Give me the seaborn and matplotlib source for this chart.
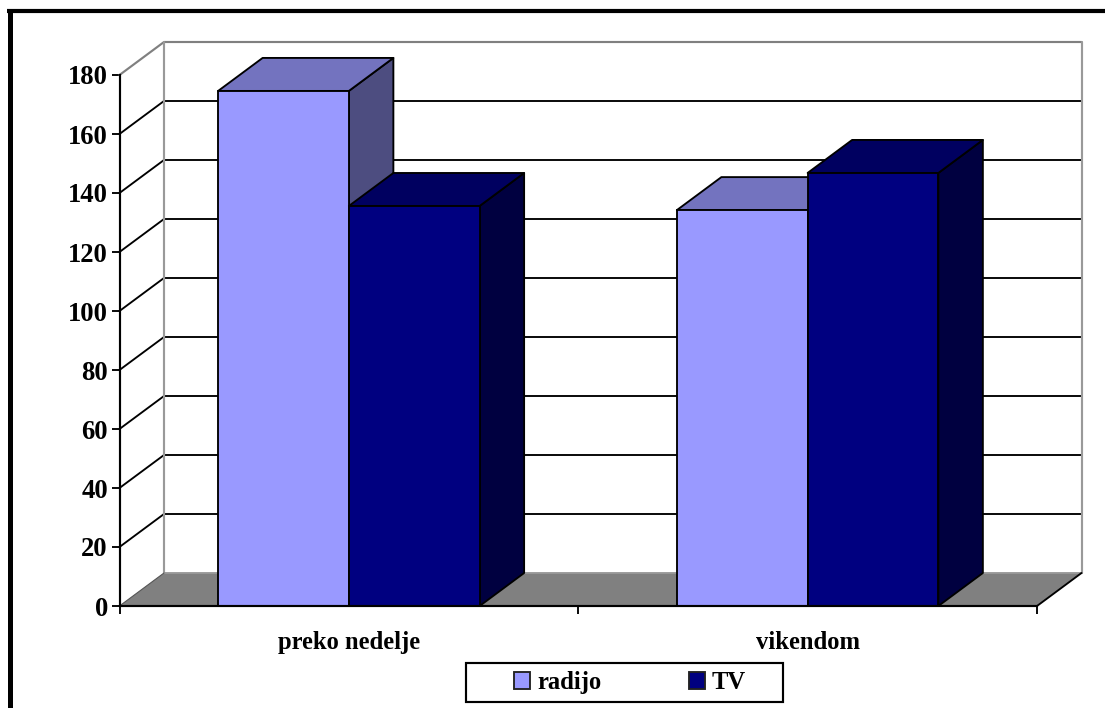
import matplotlib
matplotlib.use("Agg")
import matplotlib.pyplot as plt
from matplotlib.lines import Line2D
from matplotlib.patches import Patch, Polygon, Rectangle
import pandas as pd
import seaborn as sns

categories = ["preko nedelje", "vikendom"]
radijo = [174.6, 134.2]
tv = [135.6, 146.8]
series_names = ["radijo", "TV"]
y_ticks = list(range(0, 181, 20))

W, H = 1105, 708
AX_L, AX_R, AX_T, AX_B = 119.5, 1037, 75, 606
DX_PX, DY_PX = 44.5, 33
TICK_PT = 19.2
TEXT_PT = 17.7
LW = 1.35

sns.set_theme(style="white")
plt.rcParams["font.family"] = ["Liberation Serif", "DejaVu Serif"]
plt.rcParams["font.weight"] = "bold"

df = pd.DataFrame({
    "cat": categories * 2,
    "val": radijo + tv,
    "series": [series_names[0]] * 2 + [series_names[1]] * 2,
})

fig = plt.figure(figsize=(W / 100, H / 100), dpi=100, facecolor="white")
ax = fig.add_axes([AX_L / W, 1 - AX_B / H, (AX_R - AX_L) / W, (AX_B - AX_T) / H])
ax.patch.set_alpha(0)

palette = {"radijo": "#9999FF", "TV": "#000080"}
tops = {"radijo": "#7373BF", "TV": "#000060"}
sides = {"radijo": "#4D4D80", "TV": "#000040"}

sns.barplot(data=df, x="cat", y="val", hue="series", order=categories,
            hue_order=series_names, palette=palette, width=0.57, gap=0,
            saturation=1, edgecolor="black", linewidth=LW, legend=False, ax=ax)

XMIN, XMAX, YMIN, YMAX = -0.5, 1.5, 0, 180
ax.set_xlim(XMIN, XMAX)
ax.set_ylim(YMIN, YMAX)
dx = DX_PX / ((AX_R - AX_L) / (XMAX - XMIN))
dy = DY_PX / ((AX_B - AX_T) / (YMAX - YMIN))

# back wall and floor
floor = Polygon([(XMIN, 0), (XMAX, 0), (XMAX + dx, dy), (XMIN + dx, dy)],
                closed=True, facecolor="#808080", edgecolor="none",
                zorder=0.5, clip_on=False)
ax.add_patch(floor)
GRAY = "#999999"
for v in y_ticks[1:-1]:
    ax.plot([XMIN, XMIN + dx, XMAX + dx], [v, v + dy, v + dy], color="black",
            lw=LW, zorder=0.6, clip_on=False, solid_joinstyle="miter")
ax.plot([XMIN, XMIN + dx, XMAX + dx], [180, 180 + dy, 180 + dy], color="#808080",
        lw=LW + 0.2, zorder=0.6, clip_on=False)
ax.plot([XMIN + dx, XMIN + dx], [dy, 180 + dy], color=GRAY, lw=LW + 0.2, zorder=0.7, clip_on=False)
ax.plot([XMAX + dx, XMAX + dx], [dy, 180 + dy], color=GRAY, lw=LW + 0.2, zorder=0.7, clip_on=False)
ax.plot([XMIN + dx, XMAX + dx], [dy, dy], color=GRAY, lw=LW, zorder=0.7, clip_on=False)
ax.plot([XMIN, XMIN + dx], [0, dy], color="#555555", lw=0.8, zorder=0.7, clip_on=False)
ax.plot([XMAX, XMAX + dx], [0, dy], color="black", lw=LW, zorder=0.7, clip_on=False)

# 3D sides of the bars, back to front by x position
bars = []
for name, cont in zip(series_names, ax.containers):
    for b in cont:
        bars.append((b.get_x(), name, b))
bars.sort(key=lambda t: t[0])
for i, (x0, name, b) in enumerate(bars):
    z = 2 + i
    x1 = x0 + b.get_width()
    h = b.get_height()
    ax.add_patch(Polygon([(x1, 0), (x1 + dx, dy), (x1 + dx, h + dy), (x1, h)], closed=True,
                         facecolor=sides[name], edgecolor="black", lw=LW, zorder=z,
                         clip_on=False, joinstyle="round"))
    ax.add_patch(Polygon([(x0, h), (x0 + dx, h + dy), (x1 + dx, h + dy), (x1, h)], closed=True,
                         facecolor=tops[name], edgecolor="black", lw=LW, zorder=z,
                         clip_on=False, joinstyle="round"))
    b.set_zorder(z + 0.5)
    b.set_clip_on(False)

# axes
sns.despine(ax=ax, top=True, right=True)
for s in ("left", "bottom"):
    ax.spines[s].set_color("black")
    ax.spines[s].set_linewidth(LW + 0.2)
    ax.spines[s].set_zorder(10)
ax.set_xlabel("")
ax.set_ylabel("")
ax.set_yticks(y_ticks)
ax.set_yticklabels([str(v) for v in y_ticks], fontsize=TICK_PT, fontweight="bold", color="black")
ax.tick_params(axis="y", left=True, length=5.8, width=LW, color="black", pad=2.5)
ax.set_xticks([0, 1])
ax.set_xticklabels(categories, fontsize=TEXT_PT, fontweight="bold", color="black")
ax.set_xticks([XMIN, 0.5, XMAX], minor=True)
ax.tick_params(axis="x", which="major", bottom=False, length=0, pad=18)
ax.tick_params(axis="x", which="minor", bottom=True, length=5.8, width=LW, color="black")

# legend
legend_handles = [Patch(facecolor=palette[n], edgecolor="#222222", linewidth=LW, label=n) for n in series_names]
fig.add_artist(Rectangle((466 / W, 1 - 702 / H), (783 - 466) / W, (702 - 663) / H,
                         transform=fig.transFigure, facecolor="white", edgecolor="black", lw=LW + 0.2))
fig.legend(handles=legend_handles, loc="center", bbox_to_anchor=(630 / W, 1 - 682.5 / H), ncol=2,
           frameon=False, prop={"size": TEXT_PT, "weight": "bold"},
           handlelength=0.65, handleheight=0.65, handletextpad=0.28, columnspacing=3.55,
           labelcolor="black")

# outer frame (left and top edges only)
fig.add_artist(Line2D([9.5 / W, 9.5 / W], [0, 1 - 9 / H], color="black", lw=3.6,
                      transform=fig.transFigure, solid_capstyle="butt"))
fig.add_artist(Line2D([7 / W, 1], [1 - 11 / H, 1 - 11 / H], color="black", lw=3.0,
                      transform=fig.transFigure, solid_capstyle="butt"))

fig.savefig("out.png", dpi=100)
